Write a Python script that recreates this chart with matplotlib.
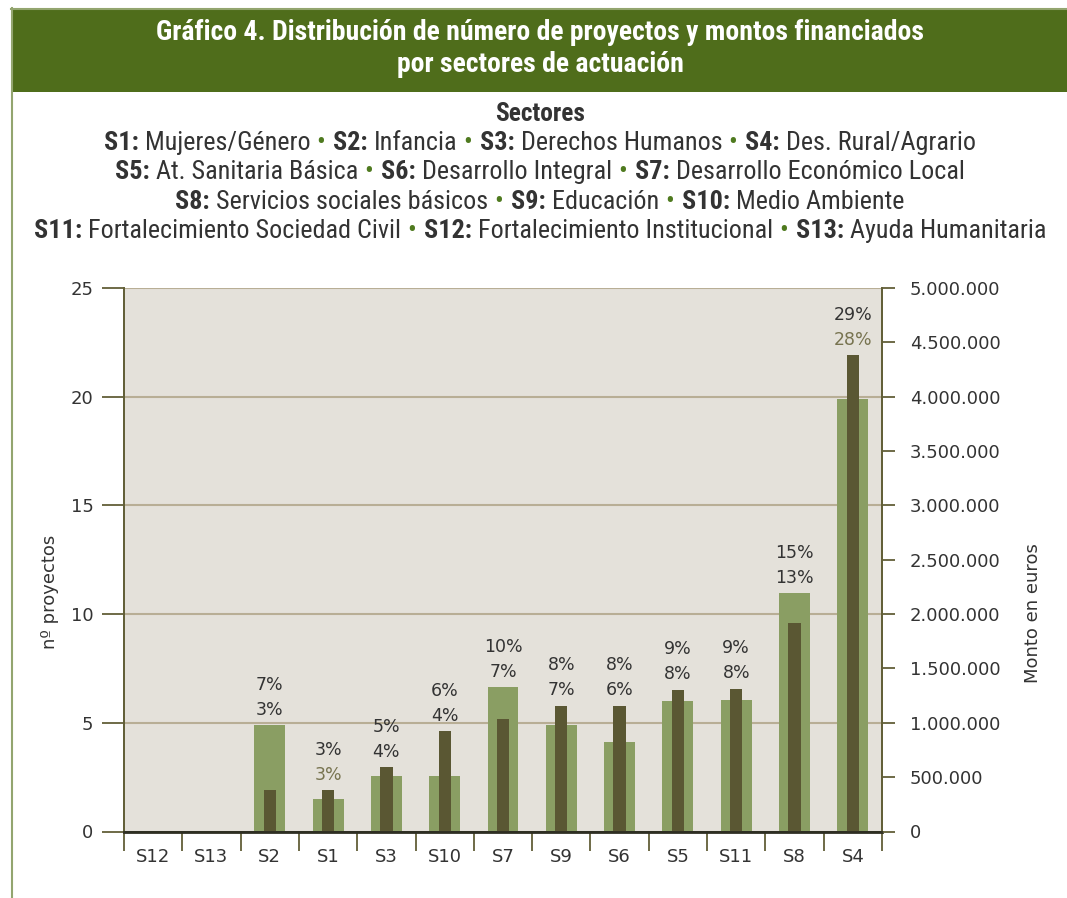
"""
Gráfico 4: número de proyectos y montos financiados por sector
"""

import matplotlib
matplotlib.use('agg')
import matplotlib.pyplot as plt
from matplotlib.patches import Rectangle
from matplotlib.lines import Line2D
from matplotlib.ticker import FuncFormatter, MultipleLocator

W, H = 1067, 898

sectors = ['S12', 'S13', 'S2', 'S1', 'S3', 'S10', 'S7', 'S9', 'S6', 'S5', 'S11', 'S8', 'S4']
n_projects = [0, 0, 4.9, 1.5, 2.55, 2.55, 6.65, 4.9, 4.1, 6.0, 6.05, 10.95, 19.9]
amounts = [0, 0, 382000, 382000, 594000, 926000, 1037000, 1157000, 1157000,
           1304000, 1313000, 1922000, 4382000]
pct_projects = ['', '', '7%', '3%', '5%', '6%', '10%', '8%', '8%', '9%', '9%', '15%', '29%']
pct_amounts = ['', '', '3%', '3%', '4%', '4%', '7%', '7%', '6%', '8%', '8%', '13%', '28%']
pct_amount_olive = ['S1', 'S4']

legend_lines = [
    [('S1', 'Mujeres/Género'), ('S2', 'Infancia'), ('S3', 'Derechos Humanos'),
     ('S4', 'Des. Rural/Agrario')],
    [('S5', 'At. Sanitaria Básica'), ('S6', 'Desarrollo Integral'),
     ('S7', 'Desarrollo Económico Local')],
    [('S8', 'Servicios sociales básicos'), ('S9', 'Educación'), ('S10', 'Medio Ambiente')],
    [('S11', 'Fortalecimiento Sociedad Civil'), ('S12', 'Fortalecimiento Institucional'),
     ('S13', 'Ayuda Humanitaria')],
]

title_lines = ['Gráfico 4. Distribución de número de proyectos y montos financiados',
               'por sectores de actuación']

BAND = '#4f6d1b'
BORDER = '#93a56f'
BG = '#e4e1da'
LIGHT = '#8a9e63'
DARK = '#5a5733'
GRID = '#b8ae95'
OLIVE = '#625f38'
TEXT = '#333333'
OLIVE_TEXT = '#77734f'
BULLET = '#4f7a1f'
NARROW = ['Roboto Condensed', 'Roboto', 'DejaVu Sans']


def px(x, y):
    return x / W, 1 - y / H


fig = plt.figure(figsize=(W / 100, H / 100), dpi=100)

# header band and borders
fig.patches.append(Rectangle(px(11, 92), (W - 11) / W, 83 / H, transform=fig.transFigure,
                             facecolor=BAND, edgecolor='none', zorder=0))
fig.lines.append(Line2D([11 / W, 1], [1 - 8.5 / H] * 2, transform=fig.transFigure,
                        color=BORDER, linewidth=1.5))
fig.lines.append(Line2D([11.5 / W] * 2, [0, 1 - 8 / H], transform=fig.transFigure,
                        color=BORDER, linewidth=1.5))

for i, line in enumerate(title_lines):
    fig.text(*px(540, 33 + 31 * i), line, ha='center', va='center', color='white',
             fontsize=20, fontweight='bold', family=NARROW)

fig.text(*px(540, 114), 'Sectores', ha='center', va='center', color=TEXT,
         fontsize=18.3, fontweight='bold', family=NARROW)

renderer = fig.canvas.get_renderer()


def legend_row(y, items, size=18.8):
    pieces = []
    for i, (code, name) in enumerate(items):
        if i:
            pieces.append(('•', dict(color=BULLET), 6))
        pieces.append((code + ':', dict(color=TEXT, fontweight='bold'), 8 if i else 0))
        pieces.append((name, dict(color=TEXT), 6))
    texts, total = [], 0
    for s, kw, gap in pieces:
        t = fig.text(0, 0, s, va='center', ha='left', fontsize=size, family=NARROW, **kw)
        w = t.get_window_extent(renderer).width
        texts.append((t, gap, w))
        total += gap + w
    x = 540 - total / 2
    for t, gap, w in texts:
        x += gap
        t.set_position(px(x, y))
        x += w


for i, items in enumerate(legend_lines):
    legend_row(143 + 29.3 * i, items)

# main chart
ax = fig.add_axes([124 / W, 1 - 831.5 / H, 758 / W, 543.5 / H])
ax2 = ax.twinx()
xs = range(len(sectors))

ax.set_facecolor(BG)
ax.set_xlim(-0.5, len(sectors) - 0.5)
ax.set_ylim(0, 25)
ax2.set_ylim(0, 5000000)
ax.yaxis.set_major_locator(MultipleLocator(5))
ax2.yaxis.set_major_locator(MultipleLocator(500000))
ax2.yaxis.set_major_formatter(FuncFormatter(lambda v, p: f'{int(v):,}'.replace(',', '.')))

# gridlines on the inner ticks only (none on the top edge)
for v in ax.get_yticks()[1:-1]:
    ax.axhline(v, color=GRID, linewidth=1.5, zorder=1)

ax.bar(xs, n_projects, width=0.53, color=LIGHT, zorder=2)
ax2.bar(xs, amounts, width=0.21, color=DARK, zorder=2)

ax.set_xticks(list(xs))
ax.set_xticklabels(sectors)
ax.set_xticks([i - 0.5 for i in range(len(sectors) + 1)], minor=True)
ax.tick_params(axis='x', which='major', length=0, pad=12, labelsize=13, labelcolor=TEXT)
ax.tick_params(axis='x', which='minor', length=14, width=1.3, color=OLIVE)
ax.tick_params(axis='y', length=16, width=1.3, color=OLIVE, pad=6, labelsize=13,
               labelcolor=TEXT)
ax2.tick_params(axis='y', length=9, width=1.3, color=OLIVE, pad=11, labelsize=13,
                labelcolor=TEXT)

for a in (ax, ax2):
    a.spines['top'].set_visible(False)
    a.spines['left'].set_color(OLIVE)
    a.spines['right'].set_color(OLIVE)
    a.spines['bottom'].set_color('#2e2e22')
    for s in a.spines.values():
        s.set_linewidth(1.3)
ax.spines['bottom'].set_linewidth(2)

# percentage labels above each group
for i, code in enumerate(sectors):
    if not pct_projects[i]:
        continue
    top = max(n_projects[i], amounts[i] / 200000)
    ax.annotate(pct_amounts[i], (i, top), xytext=(0, 11), textcoords='offset points',
                ha='center', va='center', fontsize=12.5,
                color=OLIVE_TEXT if code in pct_amount_olive else TEXT)
    ax.annotate(pct_projects[i], (i, top), xytext=(0, 29), textcoords='offset points',
                ha='center', va='center', fontsize=12.5, color=TEXT)

fig.text(*px(50, 592), 'nº proyectos', rotation=90, ha='center', va='center',
         fontsize=13, color=TEXT)
fig.text(*px(1033, 613), 'Monto en euros', rotation=90, ha='center', va='center',
         fontsize=13, color=TEXT)

fig.savefig('out.png', dpi=100, facecolor='white')
